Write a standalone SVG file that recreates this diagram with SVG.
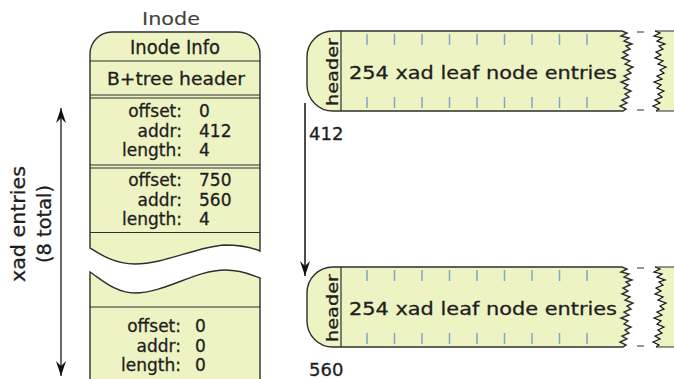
<svg xmlns="http://www.w3.org/2000/svg" width="674" height="379" viewBox="0 0 674 379">
  <style>
    .box { fill: #eef3c4; stroke: #2e2e2e; stroke-width: 1.4; }
    .rule { stroke: #2e2e2e; stroke-width: 1.2; fill: none; }
    .tick { stroke: #7fa6c4; stroke-width: 1.5; }
    .edge { fill: none; stroke: #111; stroke-width: 1.2; stroke-linejoin: miter; }
    .txt { font-family: "DejaVu Sans", "Liberation Sans", sans-serif; fill: #1e1e1e; stroke: #1e1e1e; stroke-width: 0.3; }
    .f17 { font-size: 17px; }
    .f18 { font-size: 18px; }
    .mid { text-anchor: middle; }
    .end { text-anchor: end; }
    .gray { fill: #444; stroke: #444; stroke-width: 0.15; }
  </style>
  <defs>
    <marker id="head" viewBox="-16 -6 17 12" refX="0" refY="0" markerWidth="17" markerHeight="12" markerUnits="userSpaceOnUse" orient="auto-start-reverse">
      <path d="M0,0 L-15,-5 L-10,0 L-15,5 Z" fill="#111"/>
    </marker>
    <!-- entry dividers along the top and bottom of a leaf node -->
    <path id="ticks" d="M367,34 V45 M394.5,34 V45 M422,34 V45 M449.5,34 V45 M477,34 V45 M504.5,34 V45 M532,34 V45 M559.5,34 V45 M587,34 V45
                         M367,97 V108 M394.5,97 V108 M422,97 V108 M449.5,97 V108 M477,97 V108 M504.5,97 V108 M532,97 V108 M559.5,97 V108 M587,97 V108"/>
    <!-- torn edge where the leaf entries are cut off -->
    <path id="tear-left" d="M333,31 H622 L627,33 L621,36 L629,38 L624,41 L632,44 L626,46 L630,49 L623,52 L628,55 L622,58 L630,61 L625,64 L633,67 L627,70 L631,73 L624,76 L629,79 L621,82 L628,85 L624,88 L631,91 L625,94 L629,97 L622,100 L627,103 L620,106 L626,109 L623,111 H333 A26,26 0 0 1 307,85 V57 A26,26 0 0 1 333,31 Z"/>
    <path id="tear-right-fill" d="M655,31 L660,33 L654,36 L662,38 L657,41 L665,44 L659,46 L663,49 L656,52 L661,55 L655,58 L663,61 L658,64 L666,67 L660,70 L664,73 L657,76 L662,79 L654,82 L661,85 L657,88 L664,91 L658,94 L662,97 L655,100 L660,103 L653,106 L659,109 L656,111 H680 V31 Z"/>
    <path id="tear-right-edge" d="M655,31 L660,33 L654,36 L662,38 L657,41 L665,44 L659,46 L663,49 L656,52 L661,55 L655,58 L663,61 L658,64 L666,67 L660,70 L664,73 L657,76 L662,79 L654,82 L661,85 L657,88 L664,91 L658,94 L662,97 L655,100 L660,103 L653,106 L659,109 L656,111"/>
  </defs>

  <!-- inode: upper part -->
  <g id="inode">
    <text class="txt f17 mid gray" x="171" y="25" textLength="58" lengthAdjust="spacingAndGlyphs">Inode</text>
    <path class="box" d="M90,248 V54 A22,22 0 0 1 112,32 H238 A22,22 0 0 1 260,54 V251 C248,246 238,245 225,245 C195,247 165,264 135,264 C115,264 101,255 90,248 Z"/>
    <line class="rule" x1="90" y1="61" x2="260" y2="61"/>
    <line class="rule" x1="90" y1="95" x2="260" y2="95"/>
    <line class="rule" x1="90" y1="98" x2="260" y2="98"/>
    <line class="rule" x1="90" y1="165" x2="260" y2="165"/>
    <line class="rule" x1="90" y1="168" x2="260" y2="168"/>
    <line class="rule" x1="90" y1="232.5" x2="260" y2="232.5"/>
    <text class="txt mid" style="font-size:19px" x="175" y="53.5" textLength="90" lengthAdjust="spacingAndGlyphs">Inode Info</text>
    <text class="txt f18 mid" x="176" y="85" textLength="138" lengthAdjust="spacingAndGlyphs">B+tree header</text>

    <text class="txt f17 end" x="182" y="117">offset:</text>
    <text class="txt f17" x="199" y="117">0</text>
    <text class="txt f17 end" x="182" y="136.5">addr:</text>
    <text class="txt f17" x="199" y="136.5">412</text>
    <text class="txt f17 end" x="182" y="156">length:</text>
    <text class="txt f17" x="199" y="156">4</text>

    <text class="txt f17 end" x="182" y="186">offset:</text>
    <text class="txt f17" x="199" y="186">750</text>
    <text class="txt f17 end" x="182" y="205.5">addr:</text>
    <text class="txt f17" x="199" y="205.5">560</text>
    <text class="txt f17 end" x="182" y="225">length:</text>
    <text class="txt f17" x="199" y="225">4</text>
  </g>

  <!-- inode: lower part after the break -->
  <g id="inode-tail">
    <path class="box" d="M90,385 V272 C101,279 115,293 135,293 C165,293 195,270 225,270 C238,270 248,273 260,278 V385"/>
    <line class="rule" x1="90" y1="307" x2="260" y2="307"/>
    <text class="txt f17 end" x="181" y="332">offset:</text>
    <text class="txt f17" x="195" y="332">0</text>
    <text class="txt f17 end" x="181" y="351.5">addr:</text>
    <text class="txt f17" x="195" y="351.5">0</text>
    <text class="txt f17 end" x="181" y="371">length:</text>
    <text class="txt f17" x="195" y="371">0</text>
  </g>

  <!-- leaf node at block 412 -->
  <g id="leaf-412">
    <use href="#tear-left" class="box"/>
    <use href="#tear-right-fill" class="box" style="stroke:none"/>
    <use href="#tear-right-edge" class="edge"/>
    <path class="rule" d="M655,31 H680 M656,111 H680 M637,32 H644 M637,110 H644"/>
    <line class="rule" x1="341" y1="31" x2="341" y2="111"/>
    <use href="#ticks" class="tick"/>
    <text class="txt mid" style="font-size:16px" transform="translate(338,72) rotate(-90)" textLength="68" lengthAdjust="spacingAndGlyphs">header</text>
    <text class="txt f18" x="349" y="78.5" textLength="268" lengthAdjust="spacingAndGlyphs">254 xad leaf node entries</text>
    <text class="txt f18" x="309" y="140">412</text>
  </g>

  <!-- leaf node at block 560 -->
  <g id="leaf-560" transform="translate(0,236)">
    <use href="#tear-left" class="box"/>
    <use href="#tear-right-fill" class="box" style="stroke:none"/>
    <use href="#tear-right-edge" class="edge"/>
    <path class="rule" d="M655,31 H680 M656,111 H680 M637,32 H644 M637,110 H644"/>
    <line class="rule" x1="341" y1="31" x2="341" y2="111"/>
    <use href="#ticks" class="tick"/>
    <text class="txt mid" style="font-size:16px" transform="translate(338,72) rotate(-90)" textLength="68" lengthAdjust="spacingAndGlyphs">header</text>
    <text class="txt f18" x="349" y="78.5" textLength="268" lengthAdjust="spacingAndGlyphs">254 xad leaf node entries</text>
    <text class="txt f18" x="309" y="140">560</text>
  </g>

  <!-- span label for the xad entries -->
  <g id="xad-span">
    <text class="txt mid" style="font-size:19px" transform="translate(25,224) rotate(-90)" textLength="116" lengthAdjust="spacingAndGlyphs">xad entries</text>
    <text class="txt mid" style="font-size:19px" transform="translate(51,224) rotate(-90)" textLength="78" lengthAdjust="spacingAndGlyphs">(8 total)</text>
  </g>

  <!-- connectors -->
  <g id="connectors">
    <line x1="61" y1="108" x2="61" y2="376" stroke="#6a6a6a" stroke-width="2" marker-start="url(#head)" marker-end="url(#head)"/>
    <line x1="305" y1="103" x2="305" y2="276" stroke="#111" stroke-width="1.5" marker-end="url(#head)"/>
  </g>
</svg>
